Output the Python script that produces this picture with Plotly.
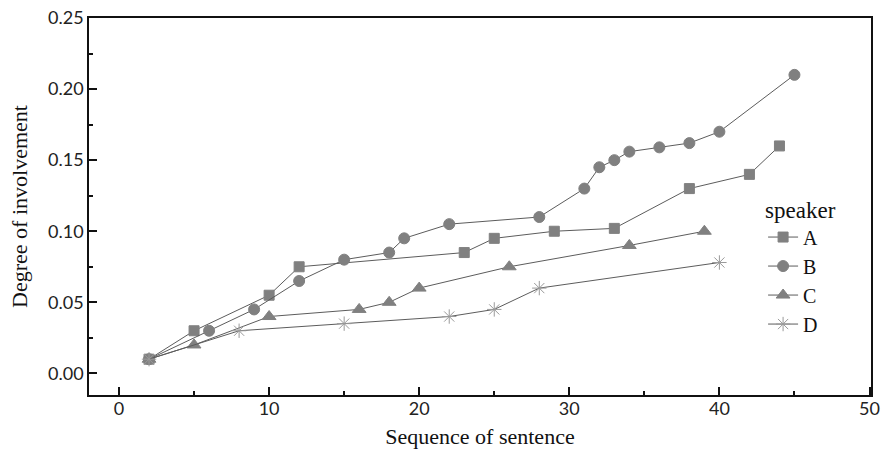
import plotly.graph_objects as go

a_x = [2, 5, 10, 12, 23, 25, 29, 33, 38, 42, 44]
a_y = [0.01, 0.03, 0.055, 0.075, 0.085, 0.095, 0.1, 0.102, 0.13, 0.14, 0.16]
b_x = [2, 6, 9, 12, 15, 18, 19, 22, 28, 31, 32, 33, 34, 36, 38, 40, 45]
b_y = [0.01, 0.03, 0.045, 0.065, 0.08, 0.085, 0.095, 0.105, 0.11, 0.13, 0.145,
       0.15, 0.156, 0.159, 0.162, 0.17, 0.21]
c_x = [2, 5, 10, 16, 18, 20, 26, 34, 39]
c_y = [0.01, 0.02, 0.04, 0.045, 0.05, 0.06, 0.075, 0.09, 0.1]
d_x = [2, 8, 15, 22, 25, 28, 40]
d_y = [0.01, 0.03, 0.035, 0.04, 0.045, 0.06, 0.078]

x_ticks = [0, 10, 20, 30, 40, 50]
y_ticks = [0.00, 0.05, 0.10, 0.15, 0.20, 0.25]

LINE = "#5c5c5c"
MK = "#808080"

fig = go.Figure()
series = [
    ("A", a_x, a_y, "square", MK, 10),
    ("B", b_x, b_y, "circle", MK, 11),
    ("C", c_x, c_y, "triangle-up", MK, 12),
    ("D", d_x, d_y, "asterisk-open", "#9a9a9a", 12),
]
for name, xs, ys, sym, col, sz in series:
    fig.add_trace(go.Scatter(
        x=xs, y=ys, name=name, mode="lines+markers",
        line=dict(color=LINE, width=1),
        marker=dict(symbol=sym, color=col, size=sz,
                    line=dict(color=col, width=1)),
    ))

SERIF = "Liberation Serif, Times New Roman, serif"
tickfont = dict(family="Lato, DejaVu Sans, sans-serif", size=18, color="#222")
titlefont = dict(family=SERIF, size=22, color="#111")

fig.update_layout(
    width=882, height=459,
    margin=dict(l=89, r=11, t=18, b=64, autoexpand=False),
    paper_bgcolor="white", plot_bgcolor="white",
    showlegend=True,
    legend=dict(
        x=0.862, y=0.55, xanchor="left", yanchor="top",
        bgcolor="rgba(0,0,0,0)",
        font=dict(family=SERIF, size=20, color="#111"),
        title=dict(text="speaker", font=dict(family=SERIF, size=23, color="#111")),
        tracegroupgap=0,
    ),
    xaxis=dict(
        range=[-2, 50.1], tickmode="array", tickvals=x_ticks,
        ticktext=[str(v) for v in x_ticks],
        ticks="inside", ticklen=8, tickwidth=1.5, tickcolor="#111",
        minor=dict(dtick=5, tick0=0, ticks="inside", ticklen=4, tickwidth=1.5, tickcolor="#111", showgrid=False),
        showline=True, linecolor="#111", linewidth=1.5, mirror=True,
        showgrid=False, zeroline=False, automargin=False,
        ticklabeloverflow="allow", ticklabelstandoff=-3,
        tickfont=tickfont,
        title=dict(text="Sequence of sentence", font=titlefont, standoff=10),
    ),
    yaxis=dict(
        range=[-0.0152, 0.25], tickmode="array", tickvals=y_ticks,
        ticktext=["%.2f" % v for v in y_ticks],
        ticks="inside", ticklen=8, tickwidth=1.5, tickcolor="#111",
        minor=dict(dtick=0.025, tick0=0, ticks="inside", ticklen=4, tickwidth=1.5, tickcolor="#111", showgrid=False),
        showline=True, linecolor="#111", linewidth=1.5, mirror=True,
        showgrid=False, zeroline=False, automargin=False,
        ticklabeloverflow="allow",
        tickfont=tickfont,
        title=dict(text="Degree of involvement", font=titlefont, standoff=14),
    ),
)

fig.write_html("out.html", config={"displayModeBar": False},
               post_script="document.body.style.margin='0';document.body.style.overflow='hidden';")
